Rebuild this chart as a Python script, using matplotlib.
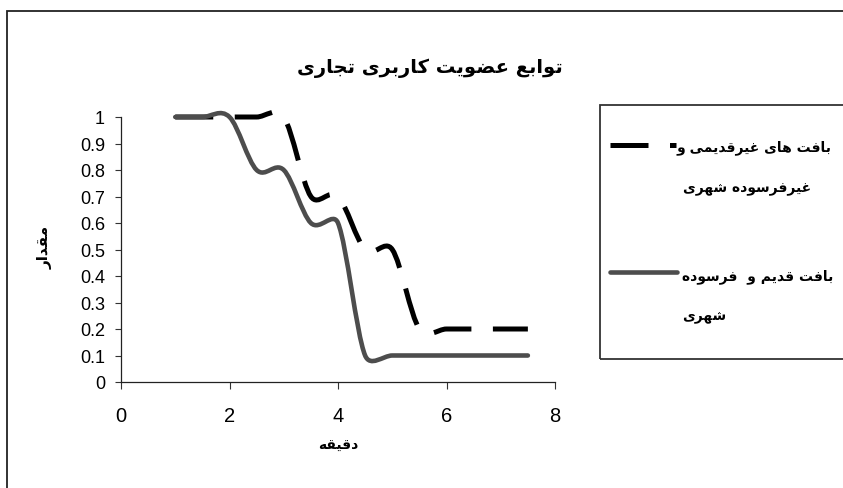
import matplotlib
matplotlib.use("Agg")
import matplotlib.pyplot as plt
from matplotlib.path import Path
from matplotlib.patches import PathPatch, Rectangle
from matplotlib.lines import Line2D

# data (minutes vs membership value)
minutes = [1, 1.5, 2, 2.5, 3, 3.5, 4, 4.5, 5, 5.5, 6, 6.5, 7, 7.5]
new_fabric = [1, 1, 1, 1, 1, 0.7, 0.7, 0.5, 0.5, 0.2, 0.2, 0.2, 0.2, 0.2]
old_fabric = [1, 1, 1, 0.8, 0.8, 0.6, 0.6, 0.1, 0.1, 0.1, 0.1, 0.1, 0.1, 0.1]

x_ticks = [0, 2, 4, 6, 8]
y_ticks = [0, 0.1, 0.2, 0.3, 0.4, 0.5, 0.6, 0.7, 0.8, 0.9, 1]
y_tick_labels = ["0", "0.1", "0.2", "0.3", "0.4", "0.5", "0.6", "0.7", "0.8", "0.9", "1"]

title = "توابع عضویت کاربری تجاری"
x_label = "دقیقه"
y_label = "مقدار"
legend_new = ["بافت های غیرقدیمی و", "غیرفرسوده شهری"]
legend_old = ["بافت قدیم و  فرسوده", "شهری"]

# --- minimal persian shaping (matplotlib has no bidi / joining) ---
FORMS = {
    # isolated, final, initial, medial
    "ا": (0xFE8D, 0xFE8E, None, None),
    "د": (0xFEA9, 0xFEAA, None, None),
    "ر": (0xFEAD, 0xFEAE, None, None),
    "و": (0xFEED, 0xFEEE, None, None),
    "ب": (0xFE8F, 0xFE90, 0xFE91, 0xFE92),
    "ت": (0xFE95, 0xFE96, 0xFE97, 0xFE98),
    "ج": (0xFE9D, 0xFE9E, 0xFE9F, 0xFEA0),
    "س": (0xFEB1, 0xFEB2, 0xFEB3, 0xFEB4),
    "ش": (0xFEB5, 0xFEB6, 0xFEB7, 0xFEB8),
    "ض": (0xFEBD, 0xFEBE, 0xFEBF, 0xFEC0),
    "ع": (0xFEC9, 0xFECA, 0xFECB, 0xFECC),
    "غ": (0xFECD, 0xFECE, 0xFECF, 0xFED0),
    "ف": (0xFED1, 0xFED2, 0xFED3, 0xFED4),
    "ق": (0xFED5, 0xFED6, 0xFED7, 0xFED8),
    "م": (0xFEE1, 0xFEE2, 0xFEE3, 0xFEE4),
    "ه": (0xFEE9, 0xFEEA, 0xFEEB, 0xFEEC),
    "ی": (0xFBFC, 0xFBFD, 0xFBFE, 0xFBFF),
    "ک": (0xFB8E, 0xFB8F, 0xFB90, 0xFB91),
}


def dual(c):
    return c in FORMS and FORMS[c][2] is not None


def shape(s):
    out = []
    for i, c in enumerate(s):
        if c not in FORMS:
            out.append(c)
            continue
        prev = s[i - 1] if i > 0 else ""
        nxt = s[i + 1] if i + 1 < len(s) else ""
        join_prev = dual(prev)
        join_next = dual(c) and nxt in FORMS
        iso, fin, ini, med = FORMS[c]
        if join_prev and join_next:
            code = med
        elif join_prev:
            code = fin
        elif join_next:
            code = ini
        else:
            code = iso
        out.append(chr(code))
    return "".join(out)[::-1]


W, H = 843, 489
AX_L, AX_R, AX_T, AX_B = 121, 555, 118, 383
XMAX, YMAX = 8, 1


def smooth_path(xs, ys):
    # excel-style smoothed line: bezier segments, control arms limited
    # to half the segment length (measured in screen pixels)
    sx = (AX_R - AX_L) / XMAX
    sy = (AX_B - AX_T) / YMAX
    pts = list(zip(xs, ys))

    def dist(a, b):
        return (((a[0] - b[0]) * sx) ** 2 + ((a[1] - b[1]) * sy) ** 2) ** 0.5

    verts = [pts[0]]
    codes = [Path.MOVETO]
    n = len(pts)
    for i in range(n - 1):
        p0 = pts[max(i - 1, 0)]
        p1 = pts[i]
        p2 = pts[i + 1]
        p3 = pts[min(i + 2, n - 1)]
        d12 = dist(p1, p2)
        d02 = dist(p0, p2)
        d13 = dist(p1, p3)
        f0 = 1 / 6 if d02 / 6 < d12 / 2 else d12 / (2 * d02)
        f1 = 1 / 6 if d13 / 6 < d12 / 2 else d12 / (2 * d13)
        c1 = (p1[0] + f0 * (p2[0] - p0[0]), p1[1] + f0 * (p2[1] - p0[1]))
        c2 = (p2[0] - f1 * (p3[0] - p1[0]), p2[1] - f1 * (p3[1] - p1[1]))
        verts += [c1, c2, p2]
        codes += [Path.CURVE4] * 3
    return Path(verts, codes)


def fx(px):
    return px / W


def fy(py):
    return 1 - py / H


fa_font = ["DejaVu Sans"]
num_font = ["Liberation Sans", "DejaVu Sans"]
dash = (0, (7.6, 4.3))
gray = "#4d4d4d"

fig = plt.figure(figsize=(W / 100, H / 100), dpi=100)
ax = fig.add_axes([fx(AX_L), fy(AX_B), fx(AX_R) - fx(AX_L), fy(AX_T) - fy(AX_B)])

ax.add_patch(PathPatch(smooth_path(minutes, new_fabric), fill=False, ec="black",
                       lw=3.6, linestyle=dash, capstyle="butt", clip_on=False, zorder=2))
ax.add_patch(PathPatch(smooth_path(minutes, old_fabric), fill=False, ec=gray,
                       lw=3.3, capstyle="round", joinstyle="round", clip_on=False, zorder=3))

ax.set_xlim(0, XMAX)
ax.set_ylim(0, YMAX)
ax.set_xticks(x_ticks)
ax.set_xticklabels([str(t) for t in x_ticks], family=num_font, fontsize=14.5)
ax.set_yticks(y_ticks)
ax.set_yticklabels(y_tick_labels, family=num_font, fontsize=13)
ax.tick_params(direction="out", length=4.5, width=0.8, color="#333333")
ax.tick_params(axis="y", pad=7)
ax.tick_params(axis="x", length=5, pad=12)
for side in ["top", "right"]:
    ax.spines[side].set_visible(False)
for side in ["left", "bottom"]:
    ax.spines[side].set_linewidth(0.9)
    ax.spines[side].set_color("#222222")

# titles / axis labels
fig.text(fx(430), fy(68), shape(title), ha="center", va="center",
         family=fa_font, fontsize=14, fontweight="bold")
fig.text(fx(338), fy(446), shape(x_label), ha="center", va="center",
         family=fa_font, fontsize=10, fontweight="bold")
fig.text(fx(45), fy(247), shape(y_label), ha="center", va="center", rotation=90,
         family=fa_font, fontsize=11, fontweight="bold")

# outer chart border
fig.add_artist(Rectangle((fx(7), fy(500)), fx(850), fy(12) - fy(500),
                         transform=fig.transFigure, fill=False, ec="#222222", lw=1.3))

# legend box
fig.add_artist(Rectangle((fx(600), fy(360)), fx(260), fy(106) - fy(360),
                         transform=fig.transFigure, fill=False, ec="#333333", lw=1.3))
fig.add_artist(Line2D([fx(610), fx(676)], [fy(146), fy(146)], transform=fig.transFigure,
                      color="black", lw=3.6, linestyle=dash, solid_capstyle="butt"))
fig.add_artist(Line2D([fx(610), fx(677)], [fy(273), fy(273)], transform=fig.transFigure,
                      color=gray, lw=3.3, solid_capstyle="round"))
fig.text(fx(677), fy(148), shape(legend_new[0]), ha="left", va="center",
         family=fa_font, fontsize=10, fontweight="bold")
fig.text(fx(683), fy(189), shape(legend_new[1]), ha="left", va="center",
         family=fa_font, fontsize=10, fontweight="bold")
fig.text(fx(682), fy(277), shape(legend_old[0]), ha="left", va="center",
         family=fa_font, fontsize=10, fontweight="bold")
fig.text(fx(682), fy(317), shape(legend_old[1]), ha="left", va="center",
         family=fa_font, fontsize=10, fontweight="bold")

fig.savefig("out.png", dpi=100)
